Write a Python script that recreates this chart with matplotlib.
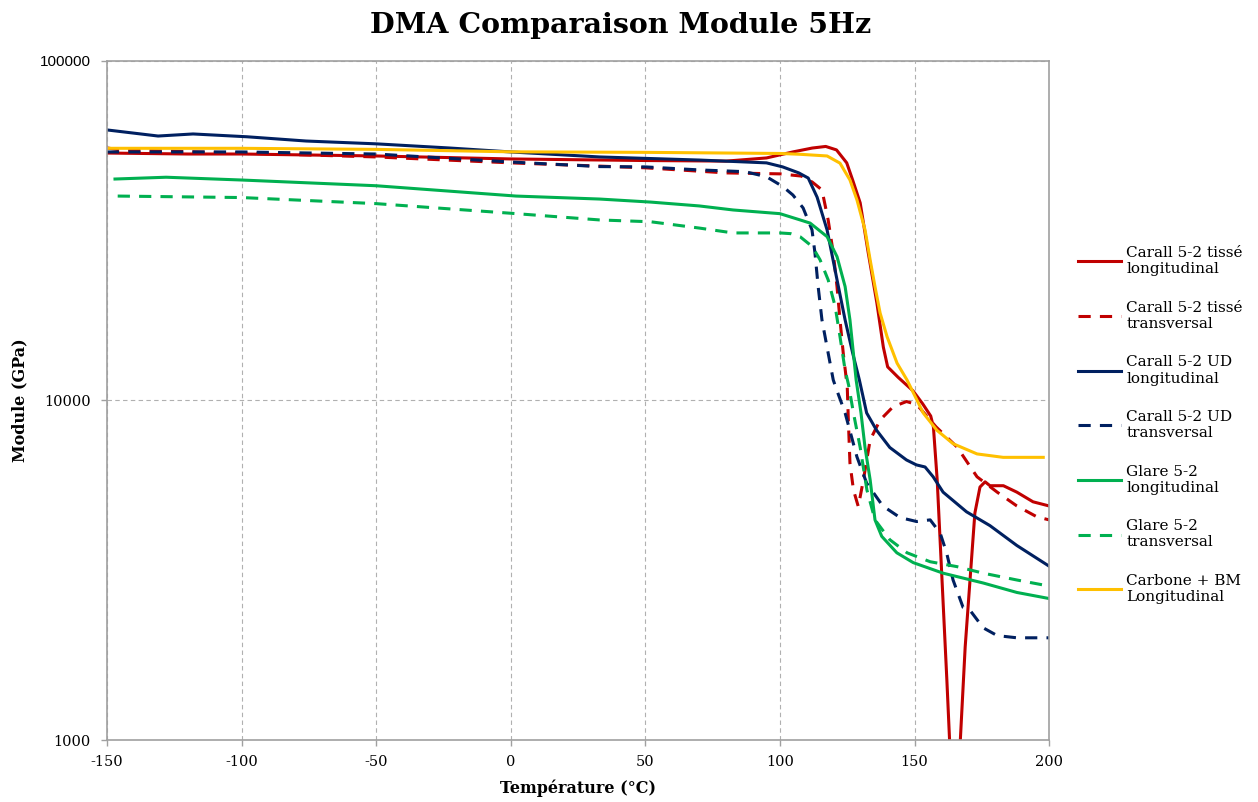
import matplotlib.pyplot as plt
from matplotlib.ticker import FixedLocator, NullLocator, FixedFormatter

plt.rcParams['axes.unicode_minus'] = False

# Carall 5-2 tissé longitudinal
t_tisse_long = [-150, -120, -100, -50, 0, 50, 80, 95, 105, 112, 117, 121, 124.8, 127, 129.8,
                132.8, 136, 138.4, 140, 143.9, 149.4, 153, 156, 157, 158.4, 160.2, 162, 163,
                164.5, 166, 167, 168.8, 170.6, 172.4, 174.3, 176.2, 178, 183, 188, 194, 200]
m_tisse_long = [53550, 53200, 53200, 52500, 51450, 50900, 50700, 51800, 54000, 55400, 56000,
                54700, 50100, 44600, 38200, 27200, 19370, 14360, 12560, 11700, 10680, 9780,
                9000, 8360, 5840, 2960, 1500, 1000, 500, 500, 1000, 1880, 2960, 4660, 5560,
                5760, 5610, 5610, 5370, 5030, 4890]

# Carall 5-2 tissé transversal
t_tisse_trans = [-150, -145, -100, -50, 0, 50, 80, 100, 108, 112, 115.6, 117.9, 119.8, 121.2,
                 122.3, 123.5, 125, 125.4, 126, 127.3, 129.1, 131, 133.5, 137.2, 142, 147,
                 150.8, 158, 165.8, 173.2, 180.7, 188, 195.5, 200]
m_tisse_trans = [55430, 54700, 53550, 52150, 50100, 48450, 46800, 46500, 45800, 43980, 41700,
                 34020, 27200, 21600, 17270, 13800, 10950, 8760, 6540, 5450, 4870, 5840, 7650,
                 8760, 9580, 9930, 9730, 8360, 7290, 5960, 5370, 4890, 4540, 4450]

# Carall 5-2 UD longitudinal
t_ud_long = [-150, -131, -118, -98, -76, -50, -23, 0, 33, 70, 95, 101, 107, 110.5, 113.8,
             117.5, 121.2, 124.2, 127, 129.5, 132.2, 135.9, 140.8, 147, 150.7, 153.9, 156.9,
             160.6, 169.3, 178, 188, 200]
m_ud_long = [62640, 60100, 60950, 59800, 58100, 57000, 55430, 53950, 52150, 51070, 50100,
             48750, 46800, 45200, 39700, 31800, 22660, 17270, 13800, 11490, 9190, 8170, 7270,
             6680, 6460, 6370, 5960, 5370, 4700, 4280, 3740, 3250]

# Carall 5-2 UD transversal
t_ud_trans = [-150, -100, -50, 0, 33, 50, 70, 87, 95, 101, 104.8, 108.6, 111.9, 113, 114.2,
              115.6, 117.9, 119.8, 121.2, 124.2, 128.6, 132.2, 138.2, 144.6, 150.8, 155.8,
              159.5, 161.9, 164.3, 168, 170.6, 175.5, 180.7, 188, 200]
m_ud_trans = [53950, 53950, 53200, 50400, 48850, 48750, 47760, 47200, 45600, 42700, 40290,
              36900, 31800, 27200, 21600, 17270, 13800, 11490, 10680, 9190, 6820, 5710, 4890,
              4520, 4400, 4450, 4070, 3560, 2960, 2460, 2410, 2140, 2030, 2000, 2000]

# Glare 5-2 longitudinal
t_glare_long = [-147, -128, -100, -50, 2, 33, 52, 70, 82.6, 100, 107.5, 111.2, 117.5, 121.2,
                124.2, 126, 128.3, 130.1, 131.6, 133.5, 135.3, 137.8, 143.4, 149.5, 160.6,
                175.5, 188, 200]
m_glare_long = [44900, 45450, 44600, 42900, 40000, 39200, 38400, 37410, 36400, 35500, 34020,
                33300, 30380, 26520, 21650, 17270, 11490, 9190, 7270, 5840, 4450, 3980, 3560,
                3330, 3100, 2900, 2720, 2610]

# Glare 5-2 transversal
t_glare_trans = [-146, -100, -50, 0, 33, 52, 70, 82.6, 100, 104, 107.5, 112, 114.9, 117.9,
                 120.5, 122.3, 124.2, 125.5, 127.3, 129.8, 132.3, 135.3, 140.8, 147.2, 155.8,
                 165.8, 175.5, 188, 200]
m_glare_trans = [40000, 39600, 38000, 35600, 34020, 33600, 32200, 31150, 31150, 31000, 30350,
                 28400, 25950, 22660, 18930, 15420, 12280, 11100, 9190, 7270, 5450, 4450, 3890,
                 3560, 3350, 3240, 3100, 2960, 2840]

# Carbone + BM longitudinal
t_carbone = [-150, -100, -50, 0, 50, 100, 107.5, 117.5, 122.3, 126, 128.6, 131.6, 133.5, 135.3,
             137.2, 139.8, 143.5, 147.2, 150.9, 153.2, 158.3, 164.3, 173.2, 182.9, 197.8]
m_carbone = [55300, 55300, 54900, 54000, 53800, 53400, 53100, 52500, 50000, 44600, 38970,
             31800, 25950, 21650, 18100, 15400, 12880, 11490, 10020, 9190, 8170, 7460, 6960,
             6800, 6800]

x_ticks = [-150, -100, -50, 0, 50, 100, 150, 200]
y_ticks = [1000, 10000, 100000]
y_tick_labels = ['1000', '10000', '100000']

RED = '#C00000'
NAVY = '#002060'
GREEN = '#00B050'
YELLOW = '#FFC000'
DASH = (0, (4, 3))
AXIS_GREY = '#A0A0A0'
serif = 'DejaVu Serif'

series = [
    (t_tisse_long, m_tisse_long, RED, '-', 'Carall 5-2 tissé\nlongitudinal'),
    (t_tisse_trans, m_tisse_trans, RED, DASH, 'Carall 5-2 tissé\ntransversal'),
    (t_ud_long, m_ud_long, NAVY, '-', 'Carall 5-2 UD\nlongitudinal'),
    (t_ud_trans, m_ud_trans, NAVY, DASH, 'Carall 5-2 UD\ntransversal'),
    (t_glare_long, m_glare_long, GREEN, '-', 'Glare 5-2\nlongitudinal'),
    (t_glare_trans, m_glare_trans, GREEN, DASH, 'Glare 5-2\ntransversal'),
    (t_carbone, m_carbone, YELLOW, '-', 'Carbone + BM\nLongitudinal'),
]

fig = plt.figure(figsize=(12.58, 8.02), dpi=100)
ax = fig.add_axes([0.085, 0.0773, 0.749, 0.8467])

for t, m, color, ls, label in series:
    ax.plot(t, m, color=color, linestyle=ls, linewidth=2.2, label=label)

ax.set_yscale('log')
ax.set_xlim(-150, 200)
ax.set_ylim(1000, 100000)
ax.set_xticks(x_ticks)
ax.yaxis.set_major_locator(FixedLocator(y_ticks))
ax.yaxis.set_major_formatter(FixedFormatter(y_tick_labels))
ax.yaxis.set_minor_locator(NullLocator())
ax.grid(True, color='#B0B0B0', linestyle=(0, (4, 3)), linewidth=0.8)
ax.tick_params(axis='both', labelsize=10.5, colors=AXIS_GREY, labelcolor='black',
               length=4.5, width=1.0)
ax.tick_params(axis='x', pad=6)
ax.tick_params(axis='y', pad=7)
for lab in ax.get_xticklabels() + ax.get_yticklabels():
    lab.set_family(serif)
# the top label is drawn in a sans face in the original
ax.get_yticklabels()[-1].set_family('Liberation Sans')
ax.get_yticklabels()[-1].set_fontsize(11)
for name in ['left', 'bottom', 'right', 'top']:
    ax.spines[name].set_color(AXIS_GREY)
    ax.spines[name].set_linewidth(1.2)

ax.set_xlabel('Température (°C)', family=serif, fontweight='bold', fontsize=11.5,
              labelpad=8)
ax.set_ylabel('Module (GPa)', family=serif, fontweight='bold', fontsize=11.5,
              labelpad=8)
fig.suptitle('DMA Comparaison Module 5Hz', family=serif, fontweight='bold',
             fontsize=20.5, x=0.493, y=0.985)

fig.legend(loc='center left', bbox_to_anchor=(0.846, 0.47), frameon=False,
           prop={'family': serif, 'size': 11}, handlelength=2.8, labelspacing=1.6,
           handletextpad=0.35)

fig.savefig('out.png', dpi=100)
